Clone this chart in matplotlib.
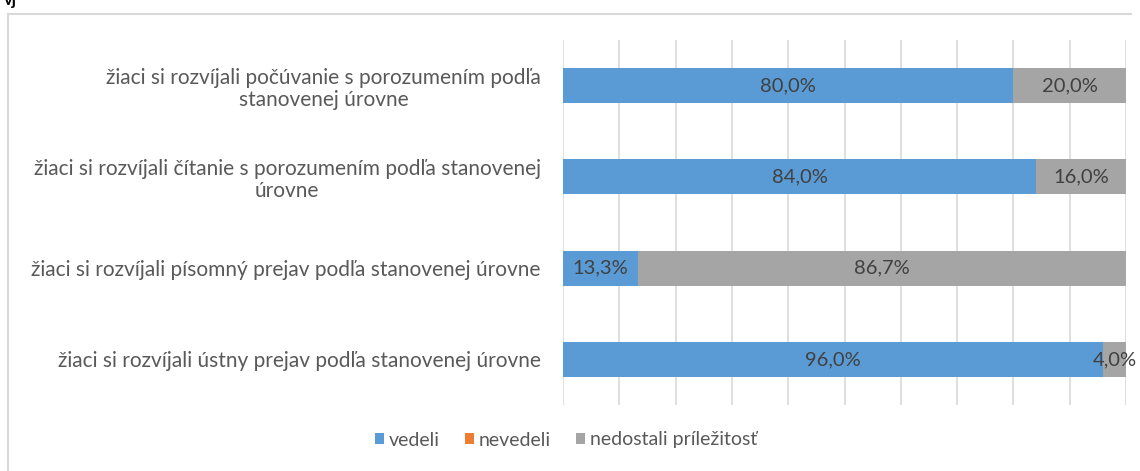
import matplotlib
matplotlib.use("Agg")
import matplotlib.pyplot as plt
from matplotlib.lines import Line2D

categories = [
    "žiaci si rozvíjali počúvanie s porozumením podľa\nstanovenej úrovne",
    "žiaci si rozvíjali čítanie s porozumením podľa stanovenej\núrovne",
    "žiaci si rozvíjali písomný prejav podľa stanovenej úrovne",
    "žiaci si rozvíjali ústny prejav podľa stanovenej úrovne",
]
series_names = ["vedeli", "nevedeli", "nedostali príležitosť"]
vedeli = [80.0, 84.0, 13.3, 96.0]
nevedeli = [0.0, 0.0, 0.0, 0.0]
nedostali = [20.0, 16.0, 86.7, 4.0]
colors = ["#5B9BD5", "#ED7D31", "#A5A5A5"]

FONT = ["Lato", "DejaVu Sans"]
plt.rcParams['font.family'] = FONT

W, H = 1140, 471
fig = plt.figure(figsize=(W / 100, H / 100), dpi=100)
ax = fig.add_axes([563 / W, 1 - 405 / H, (1126 - 563) / W, (405 - 40) / H])

# outer chart frame (left and top edges visible)
fig.add_artist(Line2D([8 / W, 8 / W], [0, 1 - 14 / H], transform=fig.transFigure,
                      color="#D9D9D9", linewidth=1.5))
fig.add_artist(Line2D([8 / W, 1131 / W], [1 - 14 / H, 1 - 14 / H], transform=fig.transFigure,
                      color="#D9D9D9", linewidth=1.5))
fig.text(4 / W, 1.0, "vj", fontsize=12, fontweight="bold", color="black", va="center", ha="left")

y = list(range(len(categories)))
series = [vedeli, nevedeli, nedostali]
left = [0.0] * len(categories)
bh = 0.385
for name, vals, c in zip(series_names, series, colors):
    ax.barh(y, vals, left=left, height=bh, color=c, label=name, zorder=3)
    for yi, v, l in zip(y, vals, left):
        if v > 0:
            ax.text(l + v / 2, yi, f"{v:.1f}%".replace(".", ","), ha="center", va="center",
                    fontsize=14.5, color="#404040", zorder=4)
    left = [a + b for a, b in zip(left, vals)]

ax.set_xlim(0, 100)
ax.set_ylim(len(categories) - 0.5, -0.5)
ax.set_xticks(range(0, 101, 10))
ax.tick_params(axis="x", length=0, labelbottom=False)
ax.grid(axis="x", color="#D9D9D9", linewidth=1.2, zorder=0)
ax.set_yticks(y)
ax.set_yticklabels(categories, fontsize=15, color="#595959", multialignment="center",
                   linespacing=1.15)
ax.tick_params(axis="y", length=0, pad=16)
for s in ax.spines.values():
    s.set_visible(False)

fig.legend(loc="center", bbox_to_anchor=(566 / W, 1 - 440 / H), ncol=3, frameon=False,
           fontsize=14, handlelength=0.45, handleheight=0.45, handletextpad=0.25,
           columnspacing=1.3, labelcolor="#595959")

fig.savefig("out.png", dpi=100)
